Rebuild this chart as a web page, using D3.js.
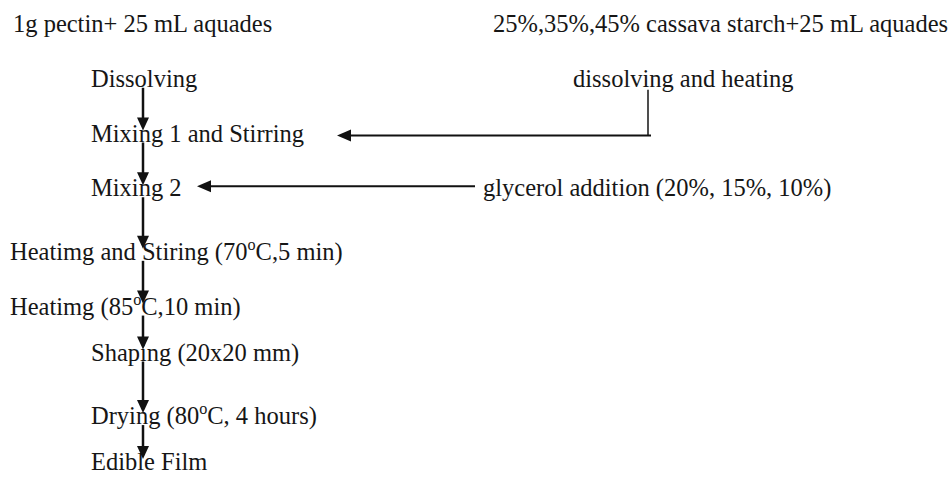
<!DOCTYPE html>
<html>
<head>
<meta charset="utf-8">
<script src="https://cdn.jsdelivr.net/npm/d3@7/dist/d3.min.js"></script>
<style>
  html, body { margin: 0; padding: 0; background: #fff; }
  svg { display: block; }
  text { font-family: "Liberation Serif", "Times New Roman", Times, serif; fill: #161616; }
</style>
</head>
<body>
<script>
// ---------- data ----------
const steps = [
  "1g pectin+ 25 mL aquades",
  "Dissolving",
  "Mixing 1 and Stirring",
  "Mixing 2",
  "Heatimg and Stiring (70^oC,5 min)",
  "Heatimg (85^oC,10 min)",
  "Shaping (20x20 mm)",
  "Drying (80^oC, 4 hours)",
  "Edible Film"
];
const stepGroups = ["header", "in", "in", "in", "out", "out", "in", "in", "in"];
const flowFrom = [1, 2, 3, 4, 5, 6, 7];          // vertical arrows: row i -> row i+1

const sideInputs = [
  "25%,35%,45% cassava starch+25 mL aquades",
  "dissolving and heating",
  "glycerol addition (20%, 15%, 10%)"
];
const sideRows = [0, 1, 3];
const sideJoins = [null, 2, 3];                  // which step row each side input feeds

// ---------- layout ----------
const W = 952, H = 477;
const fontSize = 24.5;
const svg = d3.select("body").append("svg").attr("width", W).attr("height", H);

const rowScale = d3.scalePoint().domain(d3.range(steps.length)).range([32, 470]);
// lines holding a superscript sit a little lower (taller line box), as in the source document
const supDrop = fontSize * 0.36;
const y = i => rowScale(i) + (steps[i].includes("^") ? supDrop : 0);
const xStep = d3.scaleOrdinal().domain(["header", "in", "out"]).range([13, 91, 10]);
const xSide = d3.scaleOrdinal().domain(d3.range(sideInputs.length)).range([493, 573, 483]);
const flowX = 143;

function addRich(sel, str) {
  const parts = str.split("^");
  sel.append("tspan").text(parts[0]);
  for (let k = 1; k < parts.length; k++) {
    const p = parts[k];
    sel.append("tspan").attr("font-size", fontSize * 0.66).attr("dy", -fontSize * 0.40).text(p[0]);
    sel.append("tspan").attr("dy", fontSize * 0.40).text(p.slice(1));
  }
}

// step labels
svg.append("g").selectAll("text").data(steps).join("text")
  .attr("x", (d, i) => xStep(stepGroups[i]))
  .attr("y", (d, i) => y(i))
  .attr("font-size", fontSize)
  .each(function (d) { addRich(d3.select(this), d); });

// side labels
svg.append("g").selectAll("text").data(sideInputs).join("text")
  .attr("x", (d, i) => xSide(i))
  .attr("y", (d, i) => y(sideRows[i]))
  .attr("font-size", fontSize)
  .text(d => d);

function headDown(x, tip) {
  return `M${x},${tip} L${x - 6},${tip - 13} L${x + 6},${tip - 13} Z`;
}
function headLeft(x, yy) {
  return `M${x},${yy} L${x + 14},${yy - 6} L${x + 14},${yy + 6} Z`;
}

// vertical flow arrows
const gv = svg.append("g");
flowFrom.forEach(i => {
  const y0 = y(i) + 1, tip = y(i + 1) - 11;
  gv.append("line").attr("x1", flowX).attr("x2", flowX).attr("y1", y0).attr("y2", tip - 8)
    .attr("stroke", "#111").attr("stroke-width", 2.5);
  gv.append("path").attr("d", headDown(flowX, tip)).attr("fill", "#111");
});

// side connectors
const gs = svg.append("g");
// dissolving and heating -> Mixing 1
{
  const vx = 648;
  const yy = y(sideJoins[1]) - 6;
  const tipX = 337;
  gs.append("line").attr("x1", vx).attr("x2", vx).attr("y1", y(sideRows[1]) + 3).attr("y2", yy)
    .attr("stroke", "#222").attr("stroke-width", 1.6);
  gs.append("line").attr("x1", vx + 3).attr("x2", tipX + 10).attr("y1", yy).attr("y2", yy)
    .attr("stroke", "#111").attr("stroke-width", 2);
  gs.append("path").attr("d", headLeft(tipX, yy)).attr("fill", "#111");
}
// glycerol addition -> Mixing 2
{
  const yy = y(sideJoins[2]) - 10;
  const startX = 475, tipX = 197;
  gs.append("line").attr("x1", startX).attr("x2", tipX + 10).attr("y1", yy).attr("y2", yy)
    .attr("stroke", "#111").attr("stroke-width", 2);
  gs.append("path").attr("d", headLeft(tipX, yy)).attr("fill", "#111");
}
</script>
</body>
</html>
